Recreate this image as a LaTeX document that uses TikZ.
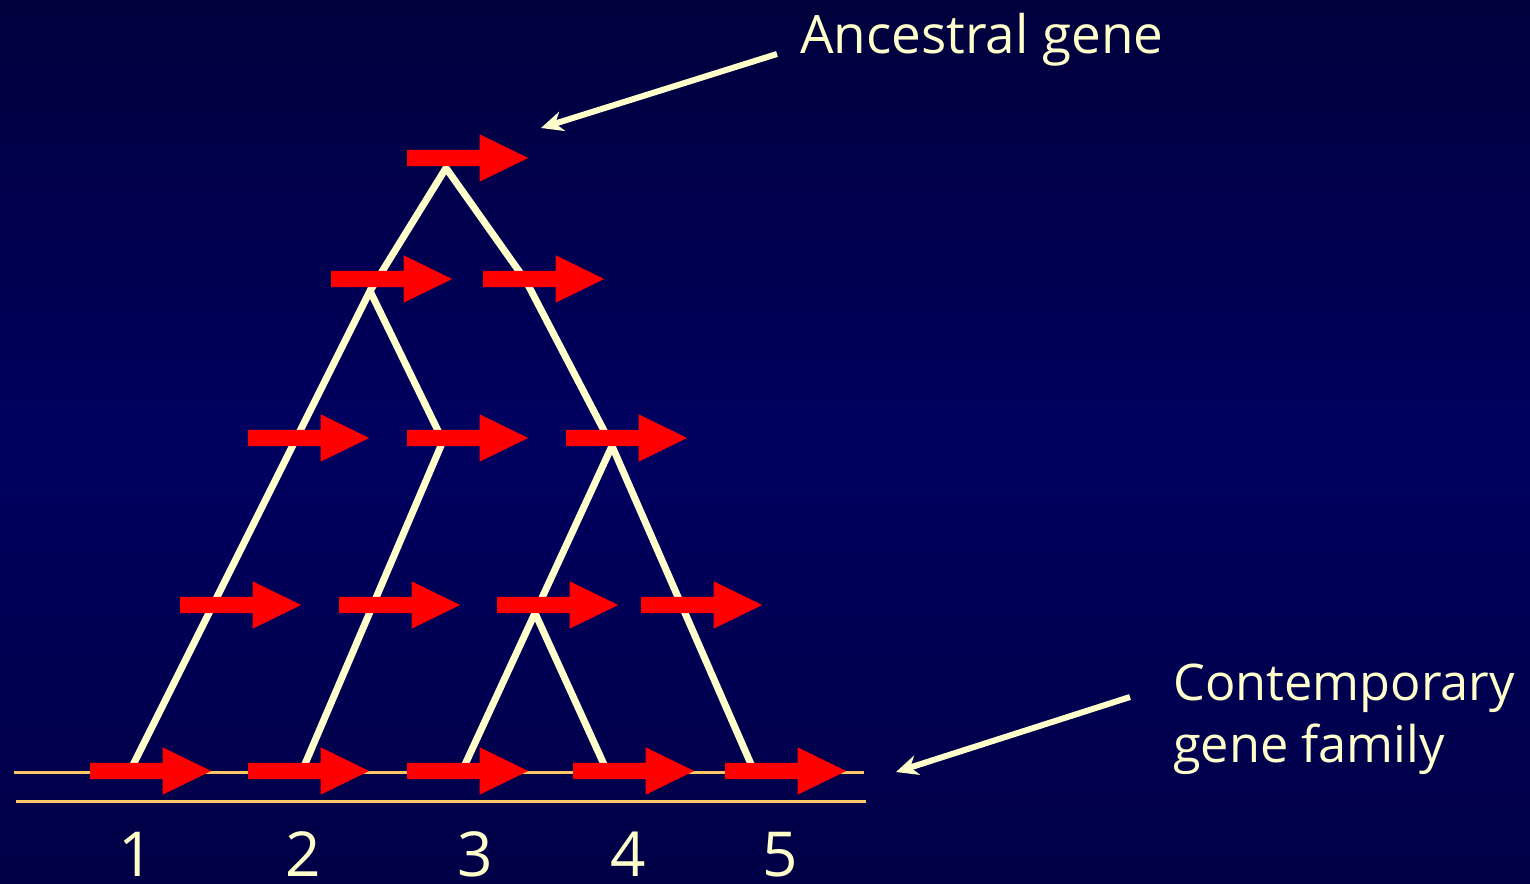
\documentclass[tikz,border=0pt]{standalone}
\usepackage{fontspec}
\setmainfont{Open Sans}
\usetikzlibrary{shapes.arrows,arrows.meta}
\definecolor{bgtop}{HTML}{00003C}
\definecolor{bgmid}{HTML}{000060}
\definecolor{bgbot}{HTML}{000046}
\definecolor{cream}{HTML}{FFFFCC}
\definecolor{rail}{HTML}{FFC864}
\definecolor{genered}{HTML}{FF0000}
\tikzset{
  genearrow/.style={single arrow, fill=genered, draw=none, inner xsep=0pt, inner ysep=8pt,
    minimum width=0pt, minimum height=121pt, single arrow head extend=15.5pt,
    single arrow tip angle=52, single arrow head indent=0pt, anchor=tail, font=\tiny},
  branch/.style={draw=cream, line width=7pt, line join=miter, line cap=butt},
  railline/.style={draw=rail, line width=3pt},
  pointer/.style={draw=cream, line width=6pt, -{Stealth[length=22pt, width=20pt, inset=7pt]}},
  label/.style={text=cream, inner sep=0pt, font=\fontsize{53}{62}\selectfont},
  sidelabel/.style={text=cream, inner sep=0pt, font=\fontsize{50.5}{62}\selectfont},
  digit/.style={text=cream, inner sep=0pt, anchor=base, font=\fontsize{62}{70}\selectfont}
}
\begin{document}
\begin{tikzpicture}[x=1pt,y=-1pt]
\useasboundingbox (0,0) rectangle (1530,883);
\clip (0,0) rectangle (1530,883);
\shade[top color=bgtop, bottom color=bgbot, middle color=bgmid] (0,0) rectangle (1530,883);

% rails
\coordinate (r1a) at (14,772);  \coordinate (r1b) at (864,772);
\coordinate (r2a) at (16,801);  \coordinate (r2b) at (866,801);
\draw[railline] (r1a) -- (r1b);
\draw[railline] (r2a) -- (r2b);

% tree points
\coordinate (A) at (446,168);
\coordinate (B) at (370,291);
\coordinate (C) at (526,281);
\coordinate (D) at (612,446);
\coordinate (E) at (443,441);
\coordinate (F) at (535,613);
\coordinate (g1) at (130,771);
\coordinate (g2) at (302,771);
\coordinate (g3) at (462,771);
\coordinate (g4) at (607,771);
\coordinate (g5) at (754,771);

\draw[branch] (B) -- (A) -- (C) -- (D);
\draw[branch] (g1) -- (B) -- (E) -- (g2);
\draw[branch] (F) -- (D) -- (g5);
\draw[branch] (g3) -- (F) -- (g4);

% gene arrows
\node[genearrow] (a0) at (407,158) {};
\node[genearrow] (a1a) at (331,279) {};
\node[genearrow] (a1b) at (483,279) {};
\node[genearrow] (a2a) at (248,438) {};
\node[genearrow] (a2b) at (407,438) {};
\node[genearrow] (a2c) at (566,438) {};
\node[genearrow] (a3a) at (180,605) {};
\node[genearrow] (a3b) at (339,605) {};
\node[genearrow] (a3c) at (497,605) {};
\node[genearrow] (a3d) at (641,605) {};
\node[genearrow] (a4a) at (90,771) {};
\node[genearrow] (a4b) at (248,771) {};
\node[genearrow] (a4c) at (407,771) {};
\node[genearrow] (a4d) at (573,771) {};
\node[genearrow] (a4e) at (725,771) {};

% labels
\node[label, anchor=base west] (anc) at (800,53) {Ancestral gene};
\coordinate (ancs) at (777,54);
\coordinate (anct) at (541,128);
\draw[pointer] (ancs) -- (anct);

\node[sidelabel, anchor=base west] (cont1) at (1173,700) {Contemporary};
\node[sidelabel, anchor=base west] (cont2) at (1173,762) {gene family};
\coordinate (cons) at (1130,697);
\coordinate (cont) at (896,772);
\draw[pointer] (cons) -- (cont);

% numbers
\node[digit] (n1) at (136,876) {1};
\node[digit] (n2) at (303,876) {2};
\node[digit] (n3) at (475,876) {3};
\node[digit] (n4) at (628,876) {4};
\node[digit] (n5) at (780,876) {5};
\end{tikzpicture}
\end{document}
